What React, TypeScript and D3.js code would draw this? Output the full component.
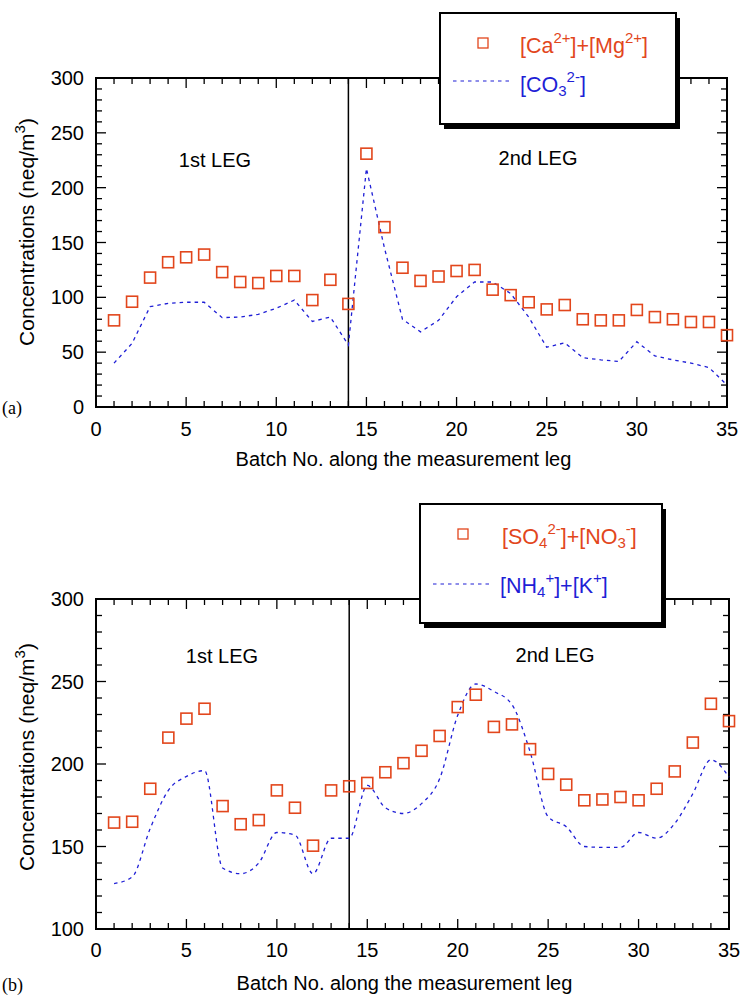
import React, { useEffect, useRef } from "react";
import * as d3 from "d3";

// batch numbers along the measurement leg
const batchNo = d3.range(1, 36);

// panel (a)
const caMg = [79, 96, 118, 132, 136.5, 139, 123, 114, 113, 119.5, 119.5, 97.5, 116, 94, 231, 164, 127, 115, 119, 124, 125, 107, 102, 95.5, 89, 93, 80, 79, 79, 88.5, 82, 80, 77.5, 77.5, 65.5];
const co3 = [40, 58, 91.5, 94.5, 95.5, 95.5, 81.5, 82, 84.5, 90, 97.5, 78, 82, 56.5, 217.5, 145, 80, 68.5, 79, 100.5, 114, 114, 103.5, 82, 54.5, 58.5, 45, 43, 41.5, 59.5, 46.5, 43, 40, 36, 20];

// panel (b)
const so4No3 = [164.5, 165, 185, 216, 227.5, 233.5, 174.5, 163.5, 166, 184, 173.5, 150.5, 184, 186.5, 188.5, 195, 200.5, 208, 217, 234.5, 242, 222.5, 224, 209, 194, 187.5, 178, 178.5, 180, 178, 185, 195.5, 213, 236.5, 226];
const nh4K = [127.5, 131.5, 161, 184, 192.5, 196, 137, 133.5, 140, 158.5, 157, 133.5, 155, 155, 187, 173.5, 170, 176, 191, 229.5, 248.5, 244, 236, 207.5, 168, 162, 150, 149.5, 149.5, 158.5, 155, 164, 182, 202.5, 192];

const xTicks = [0, 5, 10, 15, 20, 25, 30, 35];
const yTicksA = [0, 50, 100, 150, 200, 250, 300];
const yTicksB = [100, 150, 200, 250, 300];
const legSplit = 14;

const ORANGE = "#e2461c";
const BLUE = "#1f1fd6";
const FONT = "'Liberation Sans', Arial, sans-serif";

type Part = [string, number];

// text with sub/superscripts: offset 0 = normal, <0 sup, >0 sub
const richText = (g: any, x: number, y: number, parts: Part[], color: string) => {
  const t = g.append("text").attr("x", x).attr("y", y).attr("fill", color).style("font-family", FONT);
  parts.forEach(([s, off]) => {
    t.append("tspan")
      .attr("y", y + off)
      .style("font-size", off === 0 ? "21.5px" : "15px")
      .text(s);
  });
  return t;
};

const drawPanel = (svg: any, cfg: any) => {
  const { left, right, top, bottom, yDomain, yTicks, squares, line, curve } = cfg;
  const x = d3.scaleLinear().domain([0, 35]).range([left, right]);
  const y = d3.scaleLinear().domain(yDomain).range([bottom, top]);
  const g = svg.append("g");

  // ticks (inward on all four sides)
  const xMinor = d3.range(0, 36);
  const yMinor = d3.range(yDomain[0], yDomain[1] + 1, 10);
  const tick = g.append("g").attr("stroke", "#000").attr("stroke-width", 1.3);
  xMinor.forEach((v) => {
    const len = v % 5 === 0 ? 10 : 6;
    tick.append("line").attr("x1", x(v)).attr("x2", x(v)).attr("y1", bottom).attr("y2", bottom - len);
    tick.append("line").attr("x1", x(v)).attr("x2", x(v)).attr("y1", top).attr("y2", top + len);
  });
  yMinor.forEach((v) => {
    const len = v % 50 === 0 ? 10 : 6;
    tick.append("line").attr("x1", left).attr("x2", left + len).attr("y1", y(v)).attr("y2", y(v));
    tick.append("line").attr("x1", right).attr("x2", right - len).attr("y1", y(v)).attr("y2", y(v));
  });

  // frame
  g.append("rect")
    .attr("x", left).attr("y", top)
    .attr("width", right - left).attr("height", bottom - top)
    .attr("fill", "none").attr("stroke", "#000").attr("stroke-width", 2);

  // leg separator
  g.append("line")
    .attr("x1", x(legSplit)).attr("x2", x(legSplit))
    .attr("y1", top).attr("y2", bottom)
    .attr("stroke", "#000").attr("stroke-width", 1.5);

  // tick labels
  g.append("g").selectAll("text").data(xTicks).join("text")
    .attr("x", (d: number) => x(d)).attr("y", bottom + cfg.xLabelDy)
    .attr("text-anchor", "middle").style("font-family", FONT).style("font-size", "20px")
    .text((d: number) => d);
  g.append("g").selectAll("text").data(yTicks).join("text")
    .attr("x", left - 12).attr("y", (d: number) => y(d) + 7)
    .attr("text-anchor", "end").style("font-family", FONT).style("font-size", "20px")
    .text((d: number) => d);

  // axis titles
  g.append("text")
    .attr("x", (left + right) / 2 - 8).attr("y", bottom + cfg.xTitleDy)
    .attr("text-anchor", "middle").style("font-family", FONT).style("font-size", "20px")
    .text("Batch No. along the measurement leg");
  const yt = g.append("text")
    .attr("transform", `translate(34,${cfg.yTitleY}) rotate(-90)`)
    .attr("text-anchor", "middle").style("font-family", FONT).style("font-size", "21px");
  yt.append("tspan").text("Concentrations (neq/m");
  yt.append("tspan").attr("dy", -9).style("font-size", "15px").text("3");
  yt.append("tspan").attr("dy", 9).text(")");

  g.append("text")
    .attr("x", 2).attr("y", cfg.tagY)
    .style("font-family", "'Liberation Serif', 'Times New Roman', serif").style("font-size", "18px")
    .text(cfg.tag);

  // leg labels
  cfg.legLabels.forEach((l: any) => {
    g.append("text").attr("x", l.x).attr("y", l.y).attr("text-anchor", "middle")
      .style("font-family", FONT).style("font-size", "20px").text(l.text);
  });

  // dashed line series
  const lineGen = d3.line<number>()
    .x((_d, i) => x(batchNo[i]))
    .y((d) => y(d))
    .curve(curve);
  g.append("path").datum(line).attr("d", lineGen)
    .attr("fill", "none").attr("stroke", BLUE).attr("stroke-width", 1.3)
    .attr("stroke-dasharray", "3.5,4");

  // square markers
  g.append("g").selectAll("rect").data(squares).join("rect")
    .attr("x", (_d: number, i: number) => x(batchNo[i]) - 5.5)
    .attr("y", (d: number) => y(d) - 5.5)
    .attr("width", 11).attr("height", 11)
    .attr("fill", "none").attr("stroke", ORANGE).attr("stroke-width", 1.6);

  // legend box
  const L = cfg.legend;
  const lg = g.append("g");
  lg.append("rect").attr("x", L.x + 4).attr("y", L.y + 5).attr("width", L.w).attr("height", L.h).attr("fill", "#000");
  lg.append("rect").attr("x", L.x).attr("y", L.y).attr("width", L.w).attr("height", L.h)
    .attr("fill", "#fff").attr("stroke", "#000").attr("stroke-width", 2);
  lg.append("rect").attr("x", L.x + 43 - 5).attr("y", L.y + 30 - 5).attr("width", 10).attr("height", 10)
    .attr("fill", "none").attr("stroke", ORANGE).attr("stroke-width", 1.3);
  lg.append("line").attr("x1", L.x + 13).attr("x2", L.x + 72)
    .attr("y1", L.y + L.lineY).attr("y2", L.y + L.lineY)
    .attr("stroke", BLUE).attr("stroke-width", 1.2).attr("stroke-dasharray", "3.5,4");
  richText(lg, L.x + L.textX, L.y + 40, L.text1, ORANGE);
  richText(lg, L.x + 80, L.y + L.text2Y, L.text2, BLUE);
};

const App = () => {
  const svgRef = useRef<SVGSVGElement>(null);

  useEffect(() => {
    const svg = d3.select(svgRef.current);
    svg.selectAll("*").remove();

    drawPanel(svg, {
      left: 96, right: 727, top: 78, bottom: 407,
      yDomain: [0, 300], yTicks: yTicksA,
      squares: caMg, line: co3, curve: d3.curveLinear,
      xLabelDy: 29, xTitleDy: 59, yTitleY: 232,
      tag: "(a)", tagY: 414,
      legLabels: [
        { x: 215, y: 167, text: "1st LEG" },
        { x: 538, y: 165, text: "2nd LEG" },
      ],
      legend: {
        x: 440, y: 13, w: 236, h: 111, lineY: 68, text2Y: 79, textX: 80,
        text1: [["[Ca", 0], ["2+", -10], ["]+[Mg", 0], ["2+", -10], ["]", 0]],
        text2: [["[CO", 0], ["3", 4], ["2-", -10], ["]", 0]],
      },
    });

    drawPanel(svg, {
      left: 96, right: 729, top: 599, bottom: 929,
      yDomain: [100, 300], yTicks: yTicksB,
      squares: so4No3, line: nh4K, curve: d3.curveMonotoneX,
      xLabelDy: 28, xTitleDy: 61, yTitleY: 757,
      tag: "(b)", tagY: 991,
      legLabels: [
        { x: 222, y: 663, text: "1st LEG" },
        { x: 555, y: 662, text: "2nd LEG" },
      ],
      legend: {
        x: 420, y: 504, w: 242, h: 119, lineY: 80, text2Y: 89, textX: 82,
        text1: [["[SO", 0], ["4", 4], ["2-", -10], ["]+[NO", 0], ["3", 4], ["-", -10], ["]", 0]],
        text2: [["[NH", 0], ["4", 4], ["+", -10], ["]+[K", 0], ["+", -10], ["]", 0]],
      },
    });
  }, []);

  return (
    <div style={{ position: "absolute", left: 0, top: 0, width: 741, height: 996, background: "#fff" }}>
      <svg ref={svgRef} width={741} height={996} style={{ display: "block" }}></svg>
    </div>
  );
};

export default App;
